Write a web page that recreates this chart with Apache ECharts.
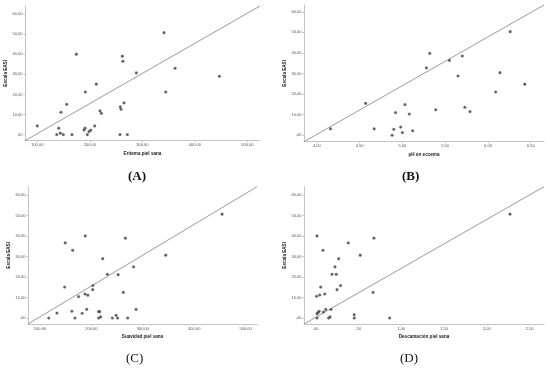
<!DOCTYPE html>
<html>
<head>
<meta charset="utf-8">
<script src="https://cdn.jsdelivr.net/npm/echarts@6/dist/echarts.min.js"></script>
<style>
html,body{margin:0;padding:0;background:#fff;}
#chart{width:550px;height:370px;}
</style>
</head>
<body>
<div id="chart"></div>
<script>
// ---- Data ----
const panelLabels = ['(A)', '(B)', '(C)', '(D)'];
const xTitles = ['Eritema piel sana', 'pH en eccema', 'Suavidad piel sana', 'Descamación piel sana'];
const yTitle = 'Escala EASI';

const yTicks = [0, 10, 20, 30, 40, 50, 60];
const xTicksA = [100, 200, 300, 400, 500];
const xTicksB = [4.0, 4.5, 5.0, 5.5, 6.0, 6.5];
const xTicksC = [100, 200, 300, 400, 500];
const xTicksD = [0, 0.5, 1.0, 1.5, 2.0, 2.5];

// (A) Eritema piel sana vs EASI
const eritemaX = [100, 140.8, 137, 143.8, 149.5, 166, 145, 156, 174.3, 191.4, 212.4, 189, 190.9, 195.2, 198.5, 201.7, 209.3, 219.4, 222, 257.5, 271.4, 258, 259.4, 265, 262, 263, 288.6, 341.3, 362.3, 344.6, 446.7];
const easiA    = [4.3, 3.2, 0, 0.7, 0, 0, 11.1, 15.1, 40, 21.2, 25.1, 2.3, 3.2, 0, 1.5, 2.2, 4.3, 11.8, 10.6, 0, 0, 13.8, 12.6, 15.8, 39, 36.5, 30.7, 50.7, 33, 21.2, 29];

// (B) pH en eccema vs EASI
const phX   = [4.16, 4.57, 4.67, 4.88, 4.90, 4.92, 4.98, 5.00, 5.03, 5.08, 5.12, 5.28, 5.32, 5.39, 5.55, 5.65, 5.70, 5.73, 5.79, 6.09, 6.14, 6.26, 6.43];
const easiB = [3.1, 15.5, 3.1, 0, 2.9, 11, 4, 1.3, 14.9, 10.3, 2.2, 32.7, 39.8, 12.4, 36.4, 28.8, 38.5, 13.6, 11.5, 21, 30.4, 50.3, 24.8];

// (C) Suavidad piel sana vs EASI
const suavidadX = [117, 133, 148, 149, 162, 163.6, 168, 175, 182, 188, 187.5, 191, 193, 202.5, 203, 214, 216, 214, 218, 222, 231, 240.7, 248, 251, 252, 262, 266, 270.6, 282, 286.8, 344.5, 454];
const easiC     = [0, 2.4, 15.1, 36.6, 3.3, 33, 0, 10.4, 2.3, 40, 11.7, 4.2, 11.1, 13.8, 15.8, 3.1, 3.1, 0, 0.5, 28.9, 21.3, 0, 1.3, 0, 21.1, 12.5, 38.9, 0, 24.9, 4.2, 30.6, 50.6];

// (D) Descamación piel sana vs EASI
const descamX = [0.015, 0.015, 0.015, 0.027, 0.04, 0.01, 0.047, 0.058, 0.085, 0.089, 0.105, 0.117, 0.15, 0.167, 0.179, 0.19, 0.225, 0.24, 0.249, 0.268, 0.29, 0.38, 0.45, 0.45, 0.52, 0.67, 0.68, 0.863, 2.27];
const easiD   = [40, 0, 2.1, 2.6, 3.3, 10.6, 11.2, 15.1, 33, 2.9, 11.7, 4.2, 0, 0.5, 4.2, 21.3, 24.9, 21.3, 13.8, 28.9, 15.8, 36.6, 1.6, 0, 30.6, 12.5, 38.9, 0, 50.6];

// axis extents (the reference line runs corner to corner of each plot)
const xRangeA = [76.6, 524],  yRangeA = [-3.0, 64.0];
const xRangeB = [3.85, 6.655], yRangeB = [-3.1, 63.3];
const xRangeC = [76.7, 522],  yRangeC = [-2.9, 64.0];
const xRangeD = [-0.137, 2.667], yRangeD = [-2.9, 64.0];

// ---- Build chart ----
function fmt(v) {
  let s = Number(v).toFixed(2).replace('.', ',');
  if (s.startsWith('0,')) s = s.slice(1);
  return s;
}

const grids = [
  {left: 25,  top: 6,     width: 235, height: 134.7},
  {left: 304, top: 5,     width: 240, height: 136.7},
  {left: 28,  top: 186.7, width: 229, height: 137.3},
  {left: 304, top: 186.7, width: 240, height: 137.3}
];

const xTickSets = [xTicksA, xTicksB, xTicksC, xTicksD];
const xRanges = [xRangeA, xRangeB, xRangeC, xRangeD];
const yRanges = [yRangeA, yRangeB, yRangeC, yRangeD];
const xs = [eritemaX, phX, suavidadX, descamX];
const ys = [easiA, easiB, easiC, easiD];

const axisLineStyle = {show: true, onZero: false, lineStyle: {color: '#c4c4c4', width: 1}};
const labelStyle = {color: '#555', fontSize: 4, fontFamily: 'Liberation Sans, Arial, sans-serif'};
const titleStyle = {color: '#222', fontSize: 4.6, fontWeight: 'bold', fontFamily: 'Liberation Sans, Arial, sans-serif'};

const xAxes = [], yAxes = [], series = [];
for (let i = 0; i < 4; i++) {
  xAxes.push({
    type: 'value', gridIndex: i,
    min: xRanges[i][0], max: xRanges[i][1],
    axisLine: axisLineStyle,
    axisTick: {show: true, customValues: xTickSets[i], length: 1.5, lineStyle: {color: '#c4c4c4'}},
    splitLine: {show: false},
    axisLabel: Object.assign({customValues: xTickSets[i], margin: 2.5, formatter: fmt}, labelStyle),
    name: xTitles[i], nameLocation: 'middle', nameGap: 10.5,
    nameTextStyle: titleStyle
  });
  yAxes.push({
    type: 'value', gridIndex: i,
    min: yRanges[i][0], max: yRanges[i][1],
    axisLine: axisLineStyle,
    axisTick: {show: true, customValues: yTicks, length: 1.5, lineStyle: {color: '#c4c4c4'}},
    splitLine: {show: false},
    axisLabel: Object.assign({customValues: yTicks, margin: 2.5, formatter: fmt}, labelStyle),
    name: yTitle, nameLocation: 'middle', nameGap: 15.5, nameRotate: 90,
    nameTextStyle: titleStyle
  });
  series.push({
    type: 'line', xAxisIndex: i, yAxisIndex: i,
    data: [[xRanges[i][0], yRanges[i][0]], [xRanges[i][1], yRanges[i][1]]],
    symbol: 'none', silent: true, clip: false,
    lineStyle: {color: '#8f8f8f', width: 0.9},
    z: 1
  });
  series.push({
    type: 'scatter', xAxisIndex: i, yAxisIndex: i,
    data: xs[i].map((x, k) => [x, ys[i][k]]),
    symbol: 'circle', symbolSize: 2.8,
    itemStyle: {color: '#3a3a3a', borderColor: '#777', borderWidth: 0.3},
    z: 3
  });
}

const labelPos = [[137, 178], [411, 178], [135, 360], [409, 360]];
const graphic = panelLabels.map((t, i) => ({
  type: 'text', left: labelPos[i][0] - 9, top: labelPos[i][1] - 8,
  style: {
    text: t, fill: '#111',
    font: (i < 2 ? 'bold ' : '') + '13px "Liberation Serif", "Times New Roman", serif'
  }
}));

const chart = echarts.init(document.getElementById('chart'), null, {renderer: 'canvas'});
chart.setOption({
  animation: false,
  backgroundColor: '#fff',
  grid: grids,
  xAxis: xAxes,
  yAxis: yAxes,
  series: series,
  graphic: graphic
});
</script>
</body>
</html>
